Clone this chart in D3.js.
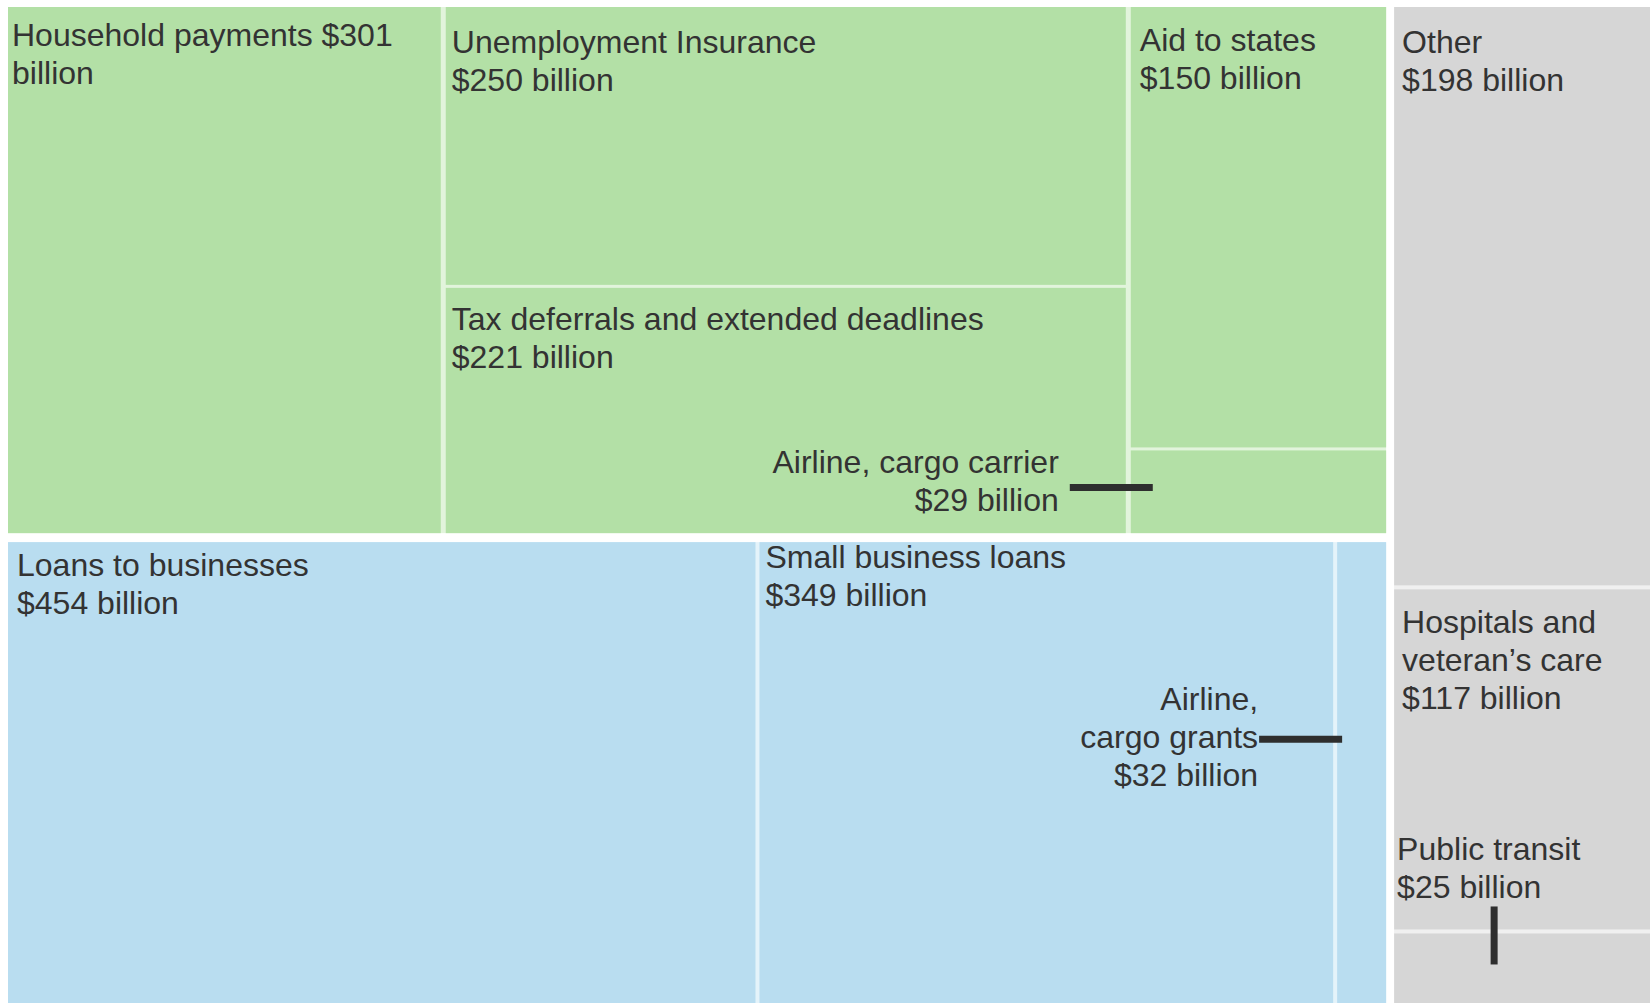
<!DOCTYPE html>
<html>
<head>
<meta charset="utf-8">
<script src="https://cdn.jsdelivr.net/npm/d3@7"></script>
<style>
  body { margin: 0; background: #fff; }
  svg text { font-family: "Liberation Sans", Arial, sans-serif; font-size: 32px; fill: #333; }
</style>
</head>
<body>
<div id="chart"></div>
<script>
// Relief package pieces, $ billions
const greenNames = ['Household payments', 'Unemployment Insurance', 'Tax deferrals and extended deadlines', 'Aid to states', 'Airline, cargo carrier'];
const greenValues = [301, 250, 221, 150, 29];
const greenColumns = [[0], [1, 2], [3, 4]];

const blueNames = ['Loans to businesses', 'Small business loans', 'Airline, cargo grants'];
const blueValues = [454, 349, 32];

const grayNames = ['Other', 'Hospitals and veteran’s care', 'Public transit'];
const grayValues = [198, 117, 25];

// label text, line by line
const labelLines = {
  'Household payments': ['Household payments $301', 'billion'],
  'Unemployment Insurance': ['Unemployment Insurance', '$250 billion'],
  'Tax deferrals and extended deadlines': ['Tax deferrals and extended deadlines', '$221 billion'],
  'Aid to states': ['Aid to states', '$150 billion'],
  'Airline, cargo carrier': ['Airline, cargo carrier', '$29 billion'],
  'Loans to businesses': ['Loans to businesses', '$454 billion'],
  'Small business loans': ['Small business loans', '$349 billion'],
  'Airline, cargo grants': ['Airline,', 'cargo grants', '$32 billion'],
  'Other': ['Other', '$198 billion'],
  'Hospitals and veteran’s care': ['Hospitals and', 'veteran’s care', '$117 billion'],
  'Public transit': ['Public transit', '$25 billion']
};

const W = 1650, H = 1003, padL = 8, padT = 7;
const lineH = 38;

const colors = { green: '#b3e0a6', blue: '#b9ddf0', gray: '#d6d6d6' };
const tints = { green: '#e2f4dc', blue: '#e4f3fa', gray: '#f0f0f0' };

// build the hierarchy
const leaf = (names, values, i) => ({ name: names[i], value: values[i] });
const tree = {
  dir: 'row', gap: 8,
  children: [
    { dir: 'col', gap: 9, children: [
      { group: 'green', dir: 'row', gap: 5,
        children: greenColumns.map(c => ({ dir: 'col', gap: 3, children: c.map(i => leaf(greenNames, greenValues, i)) })) },
      { group: 'blue', dir: 'row', gap: 4,
        children: blueNames.map((n, i) => leaf(blueNames, blueValues, i)) }
    ]},
    { group: 'gray', dir: 'col', gap: 4,
      children: grayNames.map((n, i) => leaf(grayNames, grayValues, i)) }
  ]
};

const root = d3.hierarchy(tree).sum(d => d.value || 0);

d3.treemap()
  .size([W - padL, H - padT])
  .tile((node, x0, y0, x1, y1) => (node.data.dir === 'row' ? d3.treemapDice : d3.treemapSlice)(node, x0, y0, x1, y1))
  .paddingInner(node => node.data.gap || 0)
  .round(false)(root);

const svg = d3.select('#chart').append('svg')
  .attr('width', W)
  .attr('height', H);

const g = svg.append('g').attr('transform', `translate(${padL},${padT})`);

const groupOf = d => d.ancestors().find(a => a.data.group).data.group;

// group backgrounds show through the gaps as a pale line
g.selectAll('rect.group')
  .data(root.descendants().filter(d => d.data.group))
  .enter().append('rect')
  .attr('class', 'group')
  .attr('x', d => d.x0).attr('y', d => d.y0)
  .attr('width', d => d.x1 - d.x0).attr('height', d => d.y1 - d.y0)
  .attr('fill', d => tints[d.data.group]);

const leaves = root.leaves();
g.selectAll('rect.cell')
  .data(leaves).enter().append('rect')
  .attr('class', 'cell')
  .attr('x', d => d.x0).attr('y', d => d.y0)
  .attr('width', d => d.x1 - d.x0).attr('height', d => d.y1 - d.y0)
  .attr('fill', d => colors[groupOf(d)]);

const cell = name => leaves.find(d => d.data.name === name);

// ordinary labels sit in the top left corner of their cell: [dx, first baseline dy]
const inset = {
  'Household payments': [4, 39],
  'Unemployment Insurance': [6, 46],
  'Tax deferrals and extended deadlines': [6, 42],
  'Aid to states': [9, 44],
  'Loans to businesses': [9, 34],
  'Small business loans': [6, 26],
  'Other': [8, 46],
  'Hospitals and veteran’s care': [8, 44]
};

Object.keys(inset).forEach(name => {
  const d = cell(name);
  const [dx, dy] = inset[name];
  const t = g.append('text').attr('x', d.x0 + dx).attr('y', d.y0 + dy);
  labelLines[name].forEach((s, i) => {
    t.append('tspan').attr('x', d.x0 + dx).attr('dy', i ? lineH : 0).text(s);
  });
});

// small cells get their label outside with a leader line
function callout(name, tx, ty, anchor, line) {
  const t = g.append('text').attr('x', tx).attr('y', ty).attr('text-anchor', anchor);
  labelLines[name].forEach((s, i) => {
    t.append('tspan').attr('x', tx).attr('dy', i ? lineH : 0).text(s);
  });
  g.append('line')
    .attr('x1', line[0]).attr('y1', line[1])
    .attr('x2', line[2]).attr('y2', line[3])
    .attr('stroke', '#2e2e2e')
    .attr('stroke-width', 7);
}

const carrier = cell('Airline, cargo carrier');
callout('Airline, cargo carrier', carrier.x0 - 72, carrier.y0 + 23, 'end',
  [carrier.x0 - 61, carrier.y0 + 37, carrier.x0 + 22, carrier.y0 + 37]);

const grants = cell('Airline, cargo grants');
callout('Airline, cargo grants', grants.x1 - 128, grants.y0 + 168, 'end',
  [grants.x1 - 127, grants.y0 + 197, grants.x1 - 44, grants.y0 + 197]);

const transit = cell('Public transit');
callout('Public transit', transit.x0 + 3, transit.y0 - 73, 'start',
  [transit.x0 + 100, transit.y0 - 27, transit.x0 + 100, transit.y0 + 31]);
</script>
</body>
</html>
